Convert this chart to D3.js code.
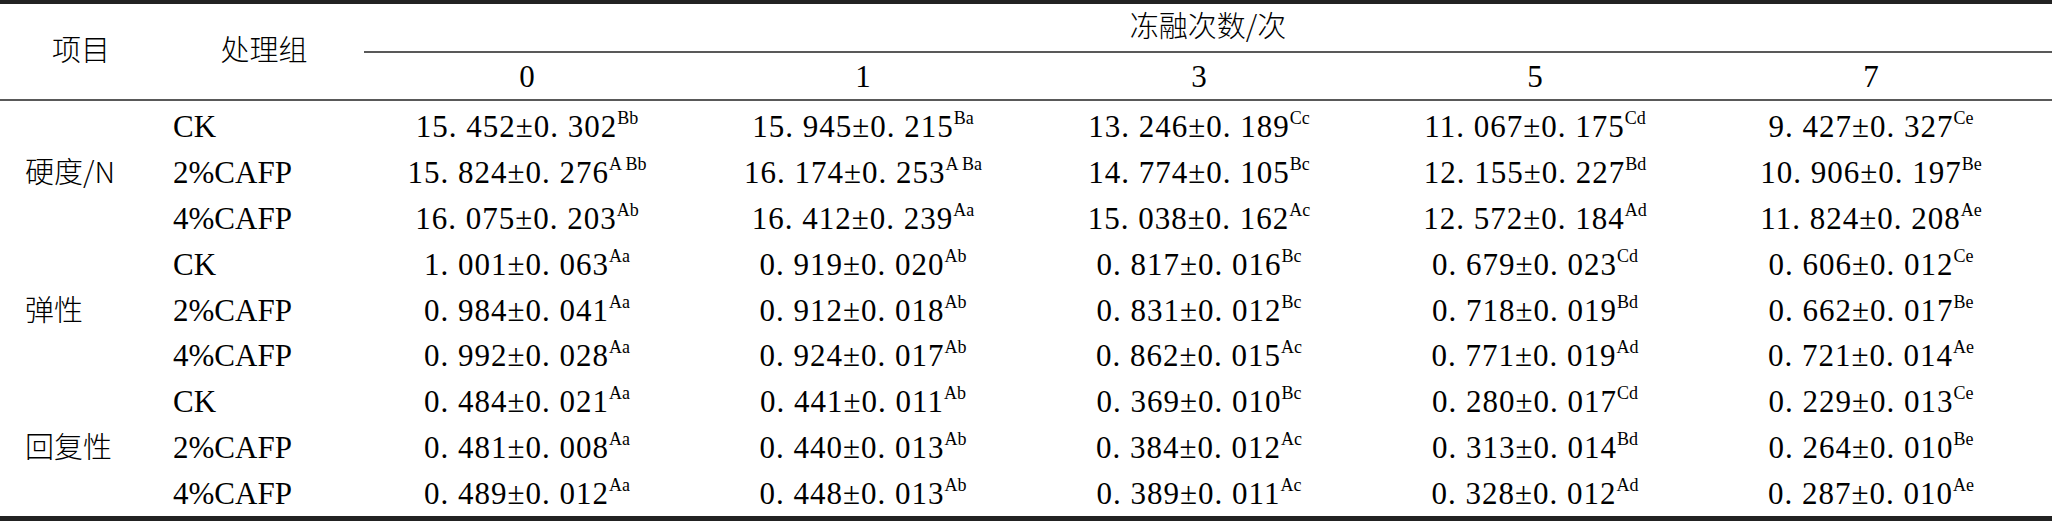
<!DOCTYPE html>
<html><head><meta charset="utf-8">
<script src="https://cdn.jsdelivr.net/npm/d3@7"></script>
<style>body{margin:0;background:#fff}svg{display:block}</style>
</head><body><svg id="t"></svg>
<script>
const W = 2052, H = 521;
const items = ['硬度/N', '弹性', '回复性'];
const groups = ['CK', '2%CAFP', '4%CAFP'];
const cycles = ['0', '1', '3', '5', '7'];
// value, sd, letters: one row per item × group, one entry per cycle
const means = [
  ['15. 452', '15. 945', '13. 246', '11. 067', '9. 427'],
  ['15. 824', '16. 174', '14. 774', '12. 155', '10. 906'],
  ['16. 075', '16. 412', '15. 038', '12. 572', '11. 824'],
  ['1. 001', '0. 919', '0. 817', '0. 679', '0. 606'],
  ['0. 984', '0. 912', '0. 831', '0. 718', '0. 662'],
  ['0. 992', '0. 924', '0. 862', '0. 771', '0. 721'],
  ['0. 484', '0. 441', '0. 369', '0. 280', '0. 229'],
  ['0. 481', '0. 440', '0. 384', '0. 313', '0. 264'],
  ['0. 489', '0. 448', '0. 389', '0. 328', '0. 287']
];
const sds = [
  ['0. 302', '0. 215', '0. 189', '0. 175', '0. 327'],
  ['0. 276', '0. 253', '0. 105', '0. 227', '0. 197'],
  ['0. 203', '0. 239', '0. 162', '0. 184', '0. 208'],
  ['0. 063', '0. 020', '0. 016', '0. 023', '0. 012'],
  ['0. 041', '0. 018', '0. 012', '0. 019', '0. 017'],
  ['0. 028', '0. 017', '0. 015', '0. 019', '0. 014'],
  ['0. 021', '0. 011', '0. 010', '0. 017', '0. 013'],
  ['0. 008', '0. 013', '0. 012', '0. 014', '0. 010'],
  ['0. 012', '0. 013', '0. 011', '0. 012', '0. 010']
];
const letters = [
  ['Bb', 'Ba', 'Cc', 'Cd', 'Ce'],
  ['A Bb', 'A Ba', 'Bc', 'Bd', 'Be'],
  ['Ab', 'Aa', 'Ac', 'Ad', 'Ae'],
  ['Aa', 'Ab', 'Bc', 'Cd', 'Ce'],
  ['Aa', 'Ab', 'Bc', 'Bd', 'Be'],
  ['Aa', 'Ab', 'Ac', 'Ad', 'Ae'],
  ['Aa', 'Ab', 'Bc', 'Cd', 'Ce'],
  ['Aa', 'Ab', 'Ac', 'Bd', 'Be'],
  ['Aa', 'Ab', 'Ac', 'Ad', 'Ae']
];

const svg = d3.select('#t').attr('width', W).attr('height', H);
const serif = '"Liberation Serif","Times New Roman",serif';
const cjk = '"Noto Sans CJK SC","Noto Sans",sans-serif';

const x = d3.scalePoint().domain(cycles).range([527, 1871]);
const rows = d3.range(means.length);
const y = d3.scalePoint().domain(rows).range([126, 493]);

// Rules
svg.append('rect').attr('x', 0).attr('y', 0).attr('width', W).attr('height', 4).attr('fill', '#222');
svg.append('rect').attr('x', 0).attr('y', H - 5).attr('width', W).attr('height', 5).attr('fill', '#222');
svg.append('line').attr('x1', 364).attr('x2', W).attr('y1', 52).attr('y2', 52).attr('stroke', '#222').attr('stroke-width', 1.5);
svg.append('line').attr('x1', 0).attr('x2', W).attr('y1', 100).attr('y2', 100).attr('stroke', '#222').attr('stroke-width', 1.5);

// Header
svg.append('text').text('项目').attr('x', 81).attr('y', 61).attr('text-anchor', 'middle')
  .style('font-family', cjk).style('font-size', '29px').style('font-weight', 300);
svg.append('text').text('处理组').attr('x', 264).attr('y', 61).attr('text-anchor', 'middle')
  .style('font-family', cjk).style('font-size', '29px').style('font-weight', 300);
svg.append('text').text('冻融次数/次').attr('x', (364 + W) / 2).attr('y', 37).attr('text-anchor', 'middle')
  .style('font-family', cjk).style('font-size', '29px').style('font-weight', 300);
svg.selectAll('.ch').data(cycles).enter().append('text')
  .attr('class', 'ch').text(d => d).attr('x', d => x(d)).attr('y', 87)
  .attr('text-anchor', 'middle').style('font-family', serif).style('font-size', '31px');

// Item labels (middle row of each group)
svg.selectAll('.it').data(items).enter().append('text')
  .attr('class', 'it').text(d => d).attr('x', 25).attr('y', (d, i) => y(i * 3 + 1) + 11)
  .style('font-family', cjk).style('font-size', '29px').style('font-weight', 300);

// Group labels
svg.selectAll('.gp').data(rows).enter().append('text')
  .attr('class', 'gp').text(r => groups[r % 3]).attr('x', 173).attr('y', r => y(r) + 11)
  .style('font-family', serif).style('font-size', '31px');

// Cells
rows.forEach(r => {
  cycles.forEach((c, j) => {
    const t = svg.append('text').attr('x', x(c)).attr('y', y(r) + 11)
      .attr('text-anchor', 'middle').style('font-family', serif).style('font-size', '31px');
    t.append('tspan').text(`${means[r][j]}±${sds[r][j]}`).style('letter-spacing', '1px');
    t.append('tspan').text(letters[r][j]).attr('dy', -13).style('font-size', '18px');
  });
});
</script></body></html>
